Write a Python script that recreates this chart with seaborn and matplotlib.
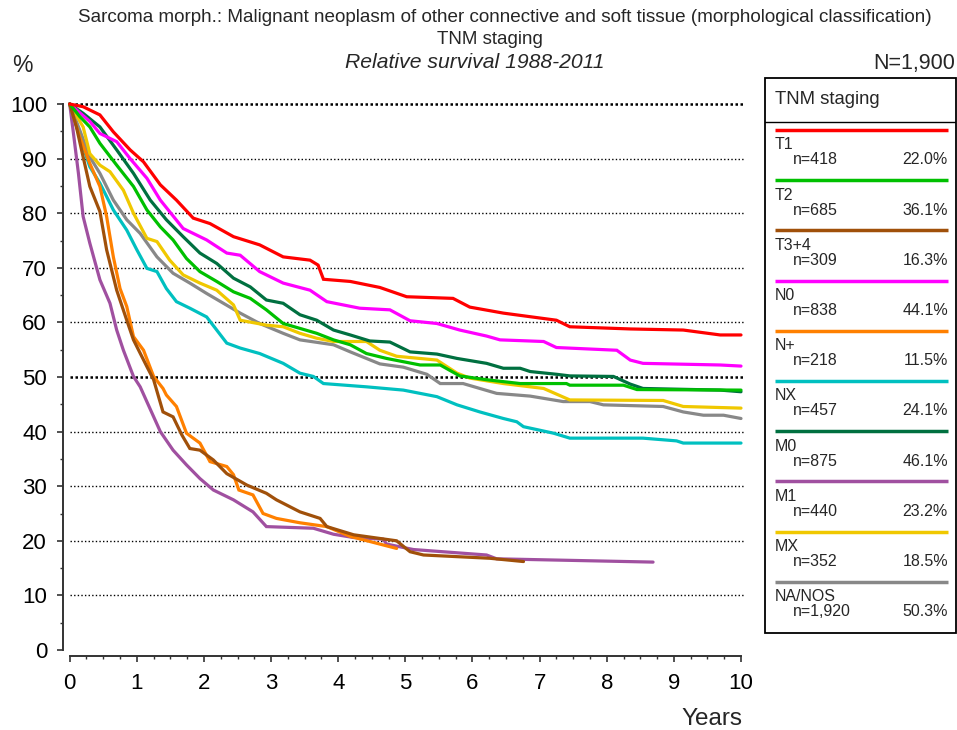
import numpy as np
import pandas as pd
import matplotlib.pyplot as plt
import seaborn as sns
from matplotlib.ticker import MultipleLocator
from matplotlib.patches import Rectangle

sns.set_style("white")
plt.rcParams['font.family'] = ['Liberation Sans', 'DejaVu Sans']

# Relative survival curves (years, %)
t1_x = [0, 0.2, 0.45, 0.65, 0.9, 1.1, 1.35, 1.59, 1.84, 2.09, 2.44, 2.83, 3.18, 3.58, 3.7, 3.78, 4.18, 4.62,
        5.02, 5.71, 5.96, 6.46, 7.25, 7.45, 8.35, 9.14, 9.69, 10.0]
t1_y = [100, 99.5, 98.0, 94.9, 91.6, 89.4, 85.2, 82.4, 79.1, 78.1, 75.7, 74.2, 72.0, 71.4, 70.5, 67.9, 67.5, 66.4,
        64.7, 64.4, 62.8, 61.7, 60.4, 59.2, 58.8, 58.6, 57.7, 57.7]

t2_x = [0, 0.15, 0.3, 0.45, 0.7, 0.95, 1.15, 1.35, 1.54, 1.74, 1.94, 2.19, 2.44, 2.69, 2.93, 3.18, 3.43, 3.68,
        3.93, 4.18, 4.42, 4.72, 4.97, 5.22, 5.52, 5.81, 6.21, 6.71, 7.40, 7.45, 8.25, 8.45, 10.0]
t2_y = [100, 97.7, 95.8, 92.8, 88.8, 84.9, 80.6, 77.5, 75.1, 71.7, 69.3, 67.5, 65.6, 64.4, 62.3, 59.8, 58.9, 58.0,
        56.8, 55.9, 54.3, 53.4, 52.8, 52.2, 52.2, 50.2, 49.5, 48.8, 48.8, 48.5, 48.5, 47.7, 47.6]

t34_x = [0, 0.1, 0.2, 0.3, 0.45, 0.55, 0.7, 0.85, 0.95, 1.15, 1.25, 1.39, 1.54, 1.67, 1.79, 1.94, 2.14, 2.34,
         2.64, 2.93, 3.08, 3.43, 3.73, 3.83, 4.23, 4.87, 5.07, 5.27, 6.26, 6.76]
t34_y = [100, 95.8, 90.3, 84.9, 80.3, 73.3, 65.9, 60.4, 56.8, 51.9, 49.5, 43.6, 42.7, 39.4, 36.9, 36.6, 34.8, 32.3,
         30.2, 28.7, 27.5, 25.3, 24.1, 22.6, 21.1, 20.0, 18.0, 17.4, 16.8, 16.2]

n0_x = [0, 0.3, 0.45, 0.7, 0.9, 1.15, 1.35, 1.69, 2.04, 2.34, 2.54, 2.83, 3.18, 3.58, 3.83, 4.32, 4.77, 5.07,
        5.47, 5.81, 6.21, 6.41, 7.06, 7.25, 8.15, 8.35, 8.54, 9.69, 10.0]
n0_y = [100, 96.8, 94.6, 93.1, 90.0, 86.4, 82.4, 77.2, 75.1, 72.7, 72.3, 69.3, 67.2, 65.9, 63.8, 62.6, 62.3, 60.3,
        59.8, 58.6, 57.5, 56.8, 56.5, 55.4, 54.9, 53.1, 52.5, 52.2, 52.0]

np_x = [0, 0.15, 0.3, 0.45, 0.55, 0.65, 0.75, 0.85, 0.95, 1.1, 1.25, 1.39, 1.44, 1.59, 1.74, 1.94, 2.09, 2.34,
        2.44, 2.52, 2.73, 2.88, 3.08, 3.43, 3.83, 4.18, 4.87]
np_y = [100, 94.0, 89.1, 84.9, 79.4, 72.0, 66.2, 62.9, 57.4, 54.9, 50.1, 47.9, 46.7, 44.6, 39.7, 37.9, 34.5, 33.6,
        32.1, 29.3, 28.4, 25.0, 24.1, 23.3, 22.6, 20.8, 18.6]

nx_x = [0, 0.15, 0.3, 0.45, 0.65, 0.85, 1.0, 1.15, 1.30, 1.44, 1.59, 1.79, 2.04, 2.34, 2.54, 2.83, 3.18, 3.43,
        3.63, 3.78, 4.42, 4.97, 5.47, 5.77, 6.11, 6.46, 6.66, 6.76, 7.21, 7.45, 8.54, 9.04, 9.14, 10.0]
nx_y = [100, 94.0, 88.5, 85.5, 80.6, 76.9, 73.3, 69.9, 69.3, 66.2, 63.8, 62.6, 61.0, 56.2, 55.3, 54.3, 52.5, 50.7,
        50.1, 48.8, 48.2, 47.6, 46.4, 44.9, 43.6, 42.4, 41.8, 40.9, 39.7, 38.8, 38.8, 38.3, 37.9, 37.9]

m0_x = [0, 0.2, 0.45, 0.7, 0.95, 1.2, 1.44, 1.69, 1.94, 2.19, 2.44, 2.69, 2.93, 3.18, 3.43, 3.68, 3.93, 4.18,
        4.47, 4.77, 5.07, 5.47, 5.77, 6.21, 6.46, 6.71, 6.86, 7.25, 7.45, 8.10, 8.35, 8.54, 9.69, 10.0]
m0_y = [100, 98.3, 95.8, 91.6, 87.3, 82.4, 78.8, 75.7, 72.7, 70.8, 68.1, 66.5, 64.1, 63.5, 61.4, 60.4, 58.6, 57.7,
        56.6, 56.4, 54.6, 54.2, 53.4, 52.5, 51.6, 51.6, 51.0, 50.5, 50.2, 50.1, 48.7, 47.9, 47.6, 47.3]

m1_x = [0, 0.05, 0.13, 0.2, 0.3, 0.45, 0.6, 0.7, 0.8, 0.95, 1.05, 1.20, 1.35, 1.54, 1.74, 1.94, 2.14, 2.44,
        2.73, 2.93, 3.63, 3.93, 4.23, 4.67, 4.72, 5.12, 6.21, 6.36, 8.69]
m1_y = [100, 95.2, 87.3, 79.4, 74.5, 67.8, 63.5, 58.6, 54.9, 50.1, 48.2, 44.1, 40.0, 36.6, 33.9, 31.4, 29.3, 27.5,
        25.3, 22.6, 22.3, 21.2, 20.6, 20.3, 19.4, 18.4, 17.4, 16.7, 16.1]

mx_x = [0, 0.2, 0.3, 0.45, 0.6, 0.8, 0.95, 1.15, 1.30, 1.49, 1.69, 1.94, 2.19, 2.44, 2.54, 2.93, 3.18, 3.43,
        3.68, 3.93, 4.42, 4.62, 4.87, 5.47, 5.77, 5.96, 6.46, 7.06, 7.45, 8.84, 9.14, 10.0]
mx_y = [100, 95.8, 90.9, 88.8, 87.6, 84.2, 80.0, 75.4, 74.8, 71.4, 68.7, 67.2, 65.9, 63.2, 60.4, 59.5, 59.2, 58.0,
        57.1, 56.5, 56.5, 54.9, 53.8, 53.1, 50.7, 49.8, 48.8, 47.9, 45.8, 45.7, 44.6, 44.3]

na_x = [0, 0.15, 0.3, 0.45, 0.65, 0.85, 1.05, 1.30, 1.54, 1.79, 2.04, 2.29, 2.54, 2.83, 3.18, 3.43, 3.93, 4.18,
        4.62, 4.97, 5.32, 5.52, 5.86, 6.11, 6.36, 6.86, 7.35, 7.75, 7.95, 8.84, 9.14, 9.44, 9.74, 10.0]
na_y = [100, 95.2, 90.3, 87.3, 82.4, 78.8, 76.3, 72.0, 69.0, 67.2, 65.3, 63.5, 61.7, 59.8, 58.0, 56.8, 55.9, 54.6,
        52.4, 51.8, 50.5, 48.8, 48.8, 47.9, 47.0, 46.5, 45.5, 45.5, 44.9, 44.6, 43.6, 43.0, 43.0, 42.4]

groups = ['T1', 'T2', 'T3+4', 'N0', 'N+', 'NX', 'M0', 'M1', 'MX', 'NA/NOS']
counts = ['n=418', 'n=685', 'n=309', 'n=838', 'n=218', 'n=457', 'n=875', 'n=440', 'n=352', 'n=1,920']
shares = ['22.0%', '36.1%', '16.3%', '44.1%', '11.5%', '24.1%', '46.1%', '23.2%', '18.5%', '50.3%']
colors = ['#ff0000', '#00c000', '#a0500a', '#ff00ff', '#ff8000', '#00c0c0', '#007040', '#a050a0', '#f0c800', '#888888']

curves_x = [t1_x, t2_x, t34_x, n0_x, np_x, nx_x, m0_x, m1_x, mx_x, na_x]
curves_y = [t1_y, t2_y, t34_y, n0_y, np_y, nx_y, m0_y, m1_y, mx_y, na_y]

frames = []
for g, xs, ys in zip(groups, curves_x, curves_y):
    frames.append(pd.DataFrame({'year': xs, 'surv': ys, 'group': g}))
df = pd.concat(frames, ignore_index=True)

W, H = 957, 730
fig = plt.figure(figsize=(W / 100, H / 100), dpi=100)
ax = fig.add_axes([69.7 / W, (H - 650) / H, (741 - 69.7) / W, (650 - 104) / H])

# dotted reference lines
for yv in range(10, 101, 10):
    bold = yv in (50, 100)
    ax.axhline(yv, xmin=0, xmax=1.005, color='black', clip_on=False, zorder=1,
               lw=1.8 if bold else 1.0, ls=(0, (1, 1)) if bold else (0, (1, 1.6)))

sns.lineplot(data=df, x='year', y='surv', hue='group', hue_order=groups[::-1],
             palette=dict(zip(groups, colors)), estimator=None, sort=False,
             lw=2.3, legend=False, ax=ax, zorder=3)
for l in ax.lines:
    l.set_clip_on(False)
    l.set_solid_joinstyle('miter')

ax.set_xlim(0, 10)
ax.set_ylim(0, 100)
ax.set_xlabel('')
ax.set_ylabel('')
ax.xaxis.set_major_locator(MultipleLocator(1))
ax.xaxis.set_minor_locator(MultipleLocator(0.25))
ax.yaxis.set_major_locator(MultipleLocator(10))
ax.yaxis.set_minor_locator(MultipleLocator(5))
for side in ['top', 'right']:
    ax.spines[side].set_visible(False)
ax.spines['left'].set_position(('outward', 4.8))
ax.spines['bottom'].set_position(('outward', 4.3))
for side in ['left', 'bottom']:
    ax.spines[side].set_color('#333333')
    ax.spines[side].set_linewidth(1.4)
ax.tick_params(which='major', direction='out', length=4.5, width=1.2, colors='#333333',
               labelsize=16, labelcolor='black', left=True, bottom=True)
ax.tick_params(which='minor', direction='out', length=2.5, width=1.0, colors='#333333',
               left=True, bottom=True)
ax.tick_params(axis='y', pad=7)
ax.tick_params(axis='x', pad=8)
ax.set_facecolor('none')

# titles and axis captions
fig.text(505 / W, 1 - 18 / H, 'Sarcoma morph.: Malignant neoplasm of other connective and soft tissue (morphological classification)',
         ha='center', va='center', fontsize=13.6)
fig.text(490 / W, 1 - 40 / H, 'TNM staging', ha='center', va='center', fontsize=13.5)
fig.text(475 / W, 1 - 62 / H, 'Relative survival 1988-2011', ha='center', va='center',
         fontsize=15.2, style='italic')
fig.text(955 / W, 1 - 63 / H, 'N=1,900', ha='right', va='center', fontsize=15.5)
fig.text(12 / W, 1 - 66 / H, '%', ha='left', va='center', fontsize=16.5)
fig.text(742 / W, 1 - 719 / H, 'Years', ha='right', va='center', fontsize=17.5)

# legend panel
lx0, ly0, lx1, ly1 = 765, 78, 956, 633
lg = fig.add_axes([lx0 / W, (H - ly1) / H, (lx1 - lx0) / W, (ly1 - ly0) / H])
lg.set_xlim(0, lx1 - lx0)
lg.set_ylim(ly1 - ly0, 0)
lg.axis('off')
lg.add_patch(Rectangle((0, 0), lx1 - lx0, ly1 - ly0, fill=False, lw=1.3, ec='black', clip_on=False))
lg.plot([0, lx1 - lx0], [44, 44], color='black', lw=1.0)
lg.text(10, 22, 'TNM staging', ha='left', va='center', fontsize=13.3)
for i, (g, c, n, s) in enumerate(zip(groups, colors, counts, shares)):
    y0 = 52 + i * 50.2
    lg.plot([10, 183], [y0, y0], color=c, lw=2.5, solid_capstyle='butt')
    lg.text(10, y0 + 15, g, ha='left', va='center', fontsize=11.5)
    lg.text(28, y0 + 30, n, ha='left', va='center', fontsize=11.5)
    lg.text(183, y0 + 30, s, ha='right', va='center', fontsize=11.5)

fig.savefig('out.png', dpi=100)
